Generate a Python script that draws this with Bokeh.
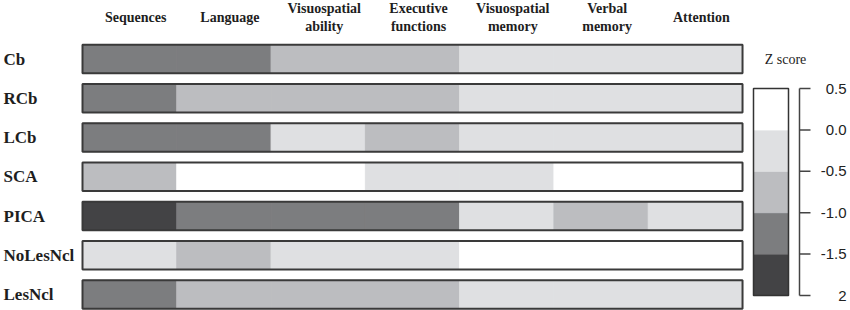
from bokeh.plotting import figure
from bokeh.models import Range1d, ColumnDataSource, LinearColorMapper
from bokeh.core.properties import value
from bokeh.embed import file_html
from bokeh.resources import INLINE

# ---- data ----
domains = ["Sequences", "Language", "Visuospatial\nability", "Executive\nfunctions",
           "Visuospatial\nmemory", "Verbal\nmemory", "Attention"]
groups = ["Cb", "RCb", "LCb", "SCA", "PICA", "NoLesNcl", "LesNcl"]
# z scores (estimated bin midpoints read from the shading)
z_Cb       = [-1.25, -1.25, -0.75, -0.75, -0.25, -0.25, -0.25]
z_RCb      = [-1.25, -0.75, -0.75, -0.75, -0.25, -0.25, -0.25]
z_LCb      = [-1.25, -1.25, -0.25, -0.75, -0.25, -0.25, -0.25]
z_SCA      = [-0.75,  0.25,  0.25, -0.25, -0.25,  0.25,  0.25]
z_PICA     = [-1.75, -1.25, -1.25, -1.25, -0.25, -0.75, -0.25]
z_NoLesNcl = [-0.25, -0.75, -0.25, -0.25,  0.25,  0.25,  0.25]
z_LesNcl   = [-1.25, -0.75, -0.75, -0.75, -0.25, -0.25, -0.25]
z_rows = [z_Cb, z_RCb, z_LCb, z_SCA, z_PICA, z_NoLesNcl, z_LesNcl]

palette = ["#434345", "#7c7d7f", "#bcbdc0", "#dfe0e2", "#ffffff"]
z_low, z_high = -2.0, 0.5
z_ticks = [0.5, 0.0, -0.5, -1.0, -1.5, -2.0]
z_tick_labels = ["0.5", "0.0", "-0.5", "-1.0", "-1.5", "2"]
band_bottoms = [-2.0, -1.5, -1.0, -0.5, 0.0]
band_tops = [-1.5, -1.0, -0.5, 0.0, 0.5]

# ---- figure ----
col_px = 94.29
x0_px = 82.0
row_px = 39.25
row0_px = 58.5
p = figure(width=850, height=310, min_border=0, toolbar_location=None,
           x_axis_type=None, y_axis_type=None, output_backend="svg",
           x_range=Range1d(-x0_px / col_px, (850 - x0_px) / col_px),
           y_range=Range1d((310 - row0_px) / row_px, -row0_px / row_px))
p.outline_line_color = None
p.grid.visible = False
p.background_fill_color = "white"
p.border_fill_color = "white"
p.extra_x_ranges = {"px": Range1d(0, 850)}
zpx = 207.0 / (z_high - z_low)
p.extra_y_ranges = {"z": Range1d(z_low - 15 / zpx, z_high + 88 / zpx)}

mapper = LinearColorMapper(palette=palette, low=z_low, high=z_high)
serif = value("Liberation Serif")

# heatmap cells
xs, ys, zs = [], [], []
for r, row in enumerate(z_rows):
    for c, z in enumerate(row):
        xs.append(c)
        ys.append(r)
        zs.append(z)
src = ColumnDataSource(dict(left=xs, right=[x + 1 for x in xs],
                            top=[y - 0.36 for y in ys], bottom=[y + 0.36 for y in ys], z=zs))
p.quad(left="left", right="right", top="top", bottom="bottom", source=src,
       fill_color={"field": "z", "transform": mapper},
       line_color={"field": "z", "transform": mapper}, line_width=1)

# row outlines
rows_idx = list(range(len(groups)))
p.quad(left=[0] * len(groups), right=[len(domains)] * len(groups),
       top=[r - 0.36 for r in rows_idx], bottom=[r + 0.36 for r in rows_idx],
       fill_color=None, line_color="#3a3a3a", line_width=2)

# row labels
p.text(x=[3] * len(groups), y=rows_idx, text=groups, x_range_name="px",
       text_font=serif, text_font_style="bold",
       text_font_size="17px", text_align="left", text_baseline="middle",
       text_color="#1e1e1e")

# column headers
p.text(x=[c + 0.5 for c in range(len(domains))], y=[-1.05] * len(domains), text=domains,
       x_offset=6, text_font=serif, text_font_style="bold",
       text_font_size="14px", text_align="center", text_baseline="middle",
       text_line_height=1.2, text_color="#1e1e1e")

# colour bar
bsrc = ColumnDataSource(dict(b=band_bottoms, t=band_tops,
                             m=[(a + b) / 2 for a, b in zip(band_bottoms, band_tops)]))
p.quad(left=753, right=788, bottom="b", top="t", source=bsrc,
       x_range_name="px", y_range_name="z",
       fill_color={"field": "m", "transform": mapper},
       line_color={"field": "m", "transform": mapper}, line_width=1)
p.quad(left=[753], right=[788], bottom=[z_low], top=[z_high],
       x_range_name="px", y_range_name="z", fill_color=None,
       line_color="#333333", line_width=1.5)

# colour bar axis
p.segment(x0=[799], x1=[799], y0=[z_low], y1=[z_high], x_range_name="px",
          y_range_name="z", line_color="#444444", line_width=1.5)
p.segment(x0=[799] * len(z_ticks), x1=[810] * len(z_ticks), y0=z_ticks, y1=z_ticks,
          x_range_name="px", y_range_name="z", line_color="#444444", line_width=1.5)
p.text(x=[846] * len(z_ticks), y=z_ticks, text=z_tick_labels, x_range_name="px",
       y_range_name="z", text_font=value("Liberation Sans"), text_font_size="15px",
       text_align="right", text_baseline="middle", text_color="#222222")

# colour bar title
p.text(x=[785], y=[0], text=["Z score"], x_range_name="px",
       text_font=serif, text_font_size="14px",
       text_align="center", text_baseline="middle", text_color="#1e1e1e")

open("out.html", "w").write(file_html(p, INLINE))
